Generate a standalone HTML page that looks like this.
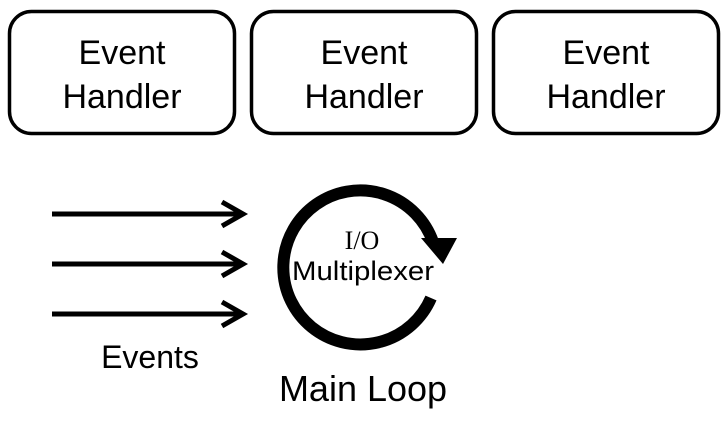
<!DOCTYPE html>
<html><head><style>
body{margin:0;background:#fff;width:727px;height:416px;overflow:hidden;font-family:"Liberation Sans","DejaVu Sans",sans-serif}
</style></head><body>
<svg width="727" height="416" xmlns="http://www.w3.org/2000/svg" font-family="'Liberation Sans','DejaVu Sans',sans-serif">
<g fill="none" stroke="#000" stroke-width="3.5">
<rect x="9.5" y="11.5" width="225" height="122" rx="22"/>
<rect x="251.5" y="11.5" width="225" height="122" rx="22"/>
<rect x="493.5" y="11.5" width="225" height="122" rx="22"/>
</g>
<g font-size="34" text-anchor="middle" fill="#000">
<text x="122" y="64">Event</text><text x="122" y="108">Handler</text>
<text x="364" y="64">Event</text><text x="364" y="108">Handler</text>
<text x="606" y="64">Event</text><text x="606" y="108">Handler</text>
</g>
<g stroke="#000" stroke-width="5" fill="none" stroke-linecap="butt">
<line x1="52" y1="214" x2="242" y2="214"/><polyline points="222,202 243,214 222,226"/>
<line x1="52" y1="264" x2="242" y2="264"/><polyline points="222,252 243,264 222,276"/>
<line x1="52" y1="314" x2="242" y2="314"/><polyline points="222,302 243,314 222,326"/>
</g>
<path d="M431,298 A77,77 0 1 1 433,242" fill="none" stroke="#000" stroke-width="12"/>
<polygon points="421,238 457,238 443,264" fill="#000"/>
<g text-anchor="middle" fill="#000">
<text x="362" y="249" font-size="26" font-family="'Liberation Serif',serif">I/O</text>
<text x="363" y="280" font-size="27" textLength="142" lengthAdjust="spacingAndGlyphs">Multiplexer</text>
<text x="150" y="368" font-size="32">Events</text>
<text x="363" y="401" font-size="36">Main Loop</text>
</g>
</svg>
</body></html>
